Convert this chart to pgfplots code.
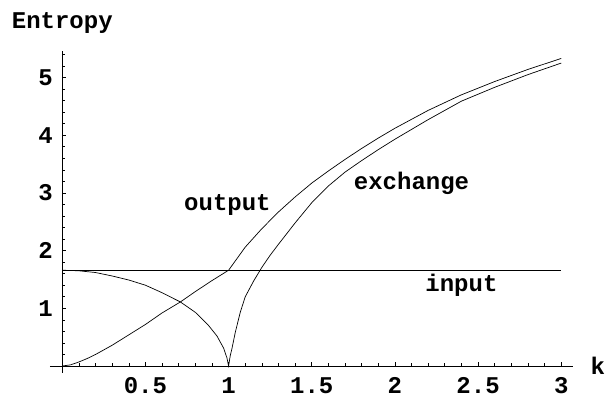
\documentclass[border=0pt]{standalone}
\usepackage{fontspec}
\setmainfont{Liberation Mono}
\usepackage{pgfplots}
\pgfplotsset{compat=1.18}

\newcommand\lbl{\fontsize{24bp}{26bp}\selectfont\bfseries}

\begin{document}
\begin{tikzpicture}
\useasboundingbox (-62.3bp,-30bp) rectangle (545.7bp,366bp);
\begin{axis}[
    at={(0,0)}, anchor=origin,
    x=166.3bp, y=57.7bp,
    xmin=-0.074, xmax=3.07, ymin=-0.12, ymax=5.46,
    axis lines=middle, axis line style={-, line width=0.7bp},
    clip=false,
    xtick={0.5,1,1.5,2,2.5,3}, ytick={1,2,3,4,5},
    minor xtick={0.1,0.2,0.3,0.4,0.6,0.7,0.8,0.9,1.1,1.2,1.3,1.4,1.6,1.7,1.8,1.9,2.1,2.2,2.3,2.4,2.6,2.7,2.8,2.9},
    minor ytick={0.2,0.4,0.6,0.8,1.2,1.4,1.6,1.8,2.2,2.4,2.6,2.8,3.2,3.4,3.6,3.8,4.2,4.4,4.6,4.8,5.2,5.4},
    tick align=inside,
    major tick length=4bp, minor tick length=2.5bp,
    tick style={black, line width=0.6bp},
    xticklabels={0.5,1,1.5,2,2.5,3},
    yticklabels={1,2,3,4,5},
    /pgf/number format/assume math mode=true,
    tick label style={font=\lbl},
    xticklabel style={anchor=base, inner sep=0pt, yshift=-27bp},
    yticklabel style={anchor=east, xshift=-6bp},
  ]
  % output
  \addplot[black, line width=0.7bp] coordinates {
    (0,0) (0.05,0.02) (0.1,0.07) (0.15,0.13) (0.2,0.2) (0.3,0.36) (0.4,0.54)
    (0.5,0.72) (0.6,0.92) (0.71,1.11) (0.8,1.29) (0.9,1.48) (1,1.66)
    (1.1,2.06) (1.2,2.38) (1.3,2.67) (1.4,2.93) (1.5,3.17) (1.6,3.38)
    (1.7,3.58) (1.8,3.77) (1.9,3.95) (2,4.12) (2.2,4.43) (2.4,4.70)
    (2.6,4.93) (2.8,5.14) (3,5.33)};
  % exchange
  \addplot[black, line width=0.7bp] coordinates {
    (0,1.66) (0.1,1.65) (0.2,1.62) (0.3,1.56) (0.4,1.49) (0.5,1.40)
    (0.6,1.27) (0.71,1.11) (0.8,0.93) (0.88,0.70) (0.93,0.52) (0.97,0.31)
    (0.99,0.14) (1,0)
    (1.01,0.18) (1.02,0.30) (1.04,0.58) (1.07,0.93) (1.1,1.2) (1.15,1.47)
    (1.2,1.71) (1.25,1.92) (1.3,2.11) (1.4,2.48) (1.5,2.83) (1.6,3.12)
    (1.7,3.36) (1.8,3.56) (1.9,3.75) (2,3.93) (2.2,4.27) (2.4,4.59)
    (2.6,4.83) (2.8,5.05) (3,5.25)};
  % input
  \addplot[black, line width=0.7bp] coordinates {(0,1.66) (3,1.66)};
  \node[font=\lbl] at (axis cs:0.993,2.79) {output};
  \node[font=\lbl] at (axis cs:2.10,3.17) {exchange};
  \node[font=\lbl] at (axis cs:2.40,1.40) {input};
  \node[font=\lbl] at (axis cs:0,5.94) {Entropy};
  \node[font=\lbl] at (axis cs:3.22,0) {k};
\end{axis}
\end{tikzpicture}
\end{document}
